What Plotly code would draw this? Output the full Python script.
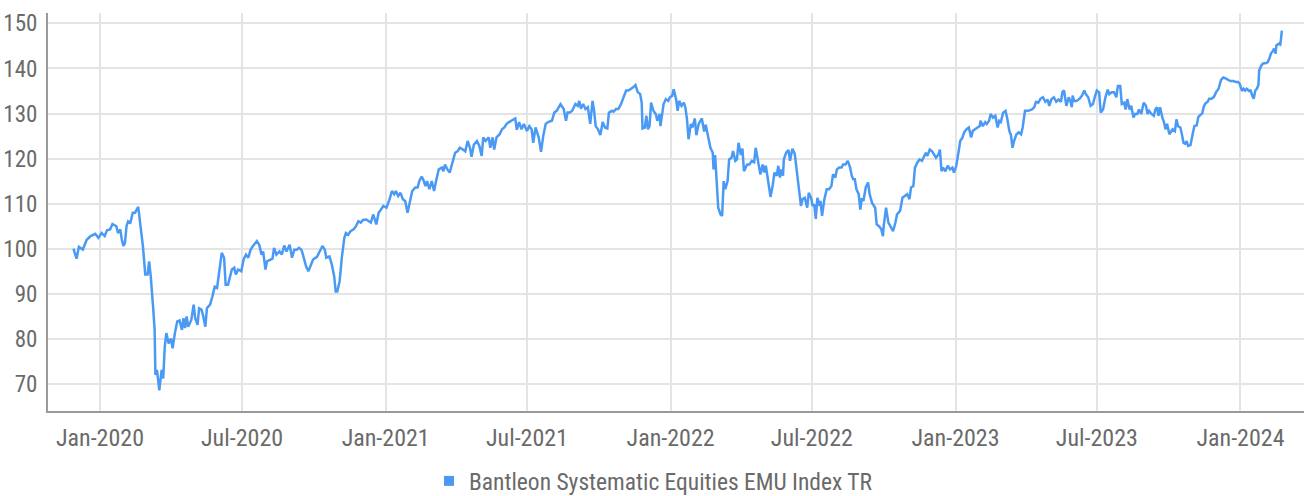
import plotly.graph_objects as go

series_name = "Bantleon Systematic Equities EMU Index TR"

dates = [
    "2019-11-28", "2019-12-02", "2019-12-05", "2019-12-10", "2019-12-15", "2019-12-20", "2019-12-26", "2019-12-30",
    "2020-01-03", "2020-01-07", "2020-01-10", "2020-01-14", "2020-01-17", "2020-01-22", "2020-01-24", "2020-01-27",
    "2020-01-29", "2020-01-31", "2020-02-02", "2020-02-04", "2020-02-06", "2020-02-09", "2020-02-12", "2020-02-15",
    "2020-02-19", "2020-02-21", "2020-02-23", "2020-02-25", "2020-02-28", "2020-03-02", "2020-03-04", "2020-03-06",
    "2020-03-09", "2020-03-11", "2020-03-12", "2020-03-14", "2020-03-17", "2020-03-20", "2020-03-22", "2020-03-24",
    "2020-03-26", "2020-03-29", "2020-04-01", "2020-04-03", "2020-04-06", "2020-04-09", "2020-04-12", "2020-04-15",
    "2020-04-17", "2020-04-19", "2020-04-21", "2020-04-23", "2020-04-27", "2020-04-30", "2020-05-02", "2020-05-05",
    "2020-05-07", "2020-05-10", "2020-05-12", "2020-05-15", "2020-05-17", "2020-05-21", "2020-05-24", "2020-05-27",
    "2020-05-30", "2020-06-02", "2020-06-05", "2020-06-08", "2020-06-10", "2020-06-13", "2020-06-18", "2020-06-21",
    "2020-06-23", "2020-06-26", "2020-06-30", "2020-07-03", "2020-07-06", "2020-07-09", "2020-07-12", "2020-07-15",
    "2020-07-20", "2020-07-23", "2020-07-26", "2020-07-28", "2020-07-31", "2020-08-02", "2020-08-06", "2020-08-09",
    "2020-08-11", "2020-08-14", "2020-08-18", "2020-08-21", "2020-08-24", "2020-08-27", "2020-08-31", "2020-09-03",
    "2020-09-06", "2020-09-09", "2020-09-12", "2020-09-15", "2020-09-17", "2020-09-21", "2020-09-24", "2020-09-27",
    "2020-09-30", "2020-10-05", "2020-10-09", "2020-10-12", "2020-10-15", "2020-10-17", "2020-10-21", "2020-10-24",
    "2020-10-27", "2020-10-29", "2020-10-31", "2020-11-03", "2020-11-06", "2020-11-09", "2020-11-11", "2020-11-14",
    "2020-11-17", "2020-11-21", "2020-11-24", "2020-11-27", "2020-11-30", "2020-12-03", "2020-12-07", "2020-12-10",
    "2020-12-13", "2020-12-16", "2020-12-20", "2020-12-23", "2020-12-25", "2020-12-29", "2021-01-02", "2021-01-06",
    "2021-01-09", "2021-01-12", "2021-01-14", "2021-01-17", "2021-01-20", "2021-01-23", "2021-01-26", "2021-01-29",
    "2021-02-01", "2021-02-04", "2021-02-08", "2021-02-11", "2021-02-13", "2021-02-16", "2021-02-18", "2021-02-21",
    "2021-02-23", "2021-02-26", "2021-03-01", "2021-03-04", "2021-03-07", "2021-03-10", "2021-03-14", "2021-03-16",
    "2021-03-18", "2021-03-21", "2021-03-24", "2021-03-27", "2021-03-29", "2021-03-31", "2021-04-03", "2021-04-06",
    "2021-04-10", "2021-04-13", "2021-04-16", "2021-04-19", "2021-04-21", "2021-04-24", "2021-04-28", "2021-05-01",
    "2021-05-04", "2021-05-06", "2021-05-09", "2021-05-13", "2021-05-15", "2021-05-18", "2021-05-20", "2021-05-23",
    "2021-05-27", "2021-05-30", "2021-06-02", "2021-06-05", "2021-06-08", "2021-06-11", "2021-06-16", "2021-06-18",
    "2021-06-21", "2021-06-24", "2021-06-27", "2021-07-01", "2021-07-04", "2021-07-07", "2021-07-09", "2021-07-12",
    "2021-07-16", "2021-07-19", "2021-07-22", "2021-07-25", "2021-07-28", "2021-08-02", "2021-08-05", "2021-08-08",
    "2021-08-10", "2021-08-13", "2021-08-17", "2021-08-20", "2021-08-22", "2021-08-25", "2021-08-28", "2021-09-01",
    "2021-09-04", "2021-09-06", "2021-09-08", "2021-09-11", "2021-09-14", "2021-09-17", "2021-09-20", "2021-09-23",
    "2021-09-25", "2021-09-27", "2021-09-30", "2021-10-03", "2021-10-06", "2021-10-09", "2021-10-12", "2021-10-14",
    "2021-10-18", "2021-10-20", "2021-10-23", "2021-10-26", "2021-10-29", "2021-11-01", "2021-11-05", "2021-11-08",
    "2021-11-11", "2021-11-14", "2021-11-17", "2021-11-20", "2021-11-23", "2021-11-25", "2021-11-26", "2021-11-29",
    "2021-12-01", "2021-12-03", "2021-12-05", "2021-12-07", "2021-12-10", "2021-12-13", "2021-12-15", "2021-12-18",
    "2021-12-19", "2021-12-23", "2021-12-26", "2021-12-29", "2021-12-31", "2022-01-03", "2022-01-05", "2022-01-08",
    "2022-01-10", "2022-01-12", "2022-01-15", "2022-01-18", "2022-01-20", "2022-01-22", "2022-01-24", "2022-01-27",
    "2022-01-29", "2022-02-01", "2022-02-03", "2022-02-06", "2022-02-10", "2022-02-13", "2022-02-15", "2022-02-18",
    "2022-02-21", "2022-02-24", "2022-02-25", "2022-02-27", "2022-03-01", "2022-03-03", "2022-03-06", "2022-03-08",
    "2022-03-10", "2022-03-12", "2022-03-15", "2022-03-17", "2022-03-20", "2022-03-22", "2022-03-25", "2022-03-27",
    "2022-03-29", "2022-04-01", "2022-04-03", "2022-04-05", "2022-04-09", "2022-04-12", "2022-04-15", "2022-04-18",
    "2022-04-20", "2022-04-23", "2022-04-26", "2022-04-29", "2022-05-01", "2022-05-03", "2022-05-06", "2022-05-09",
    "2022-05-12", "2022-05-14", "2022-05-17", "2022-05-19", "2022-05-21", "2022-05-23", "2022-05-25", "2022-05-26",
    "2022-05-29", "2022-06-01", "2022-06-03", "2022-06-06", "2022-06-09", "2022-06-12", "2022-06-14", "2022-06-17",
    "2022-06-19", "2022-06-22", "2022-06-25", "2022-06-27", "2022-06-30", "2022-07-02", "2022-07-04", "2022-07-06",
    "2022-07-08", "2022-07-11", "2022-07-12", "2022-07-14", "2022-07-17", "2022-07-20", "2022-07-23", "2022-07-26",
    "2022-07-28", "2022-07-31", "2022-08-02", "2022-08-05", "2022-08-08", "2022-08-10", "2022-08-13", "2022-08-16",
    "2022-08-19", "2022-08-21", "2022-08-23", "2022-08-25", "2022-08-27", "2022-08-30", "2022-09-01", "2022-09-03",
    "2022-09-05", "2022-09-08", "2022-09-11", "2022-09-13", "2022-09-16", "2022-09-20", "2022-09-22", "2022-09-25",
    "2022-09-28", "2022-09-30", "2022-10-01", "2022-10-04", "2022-10-07", "2022-10-10", "2022-10-13", "2022-10-16",
    "2022-10-18", "2022-10-22", "2022-10-25", "2022-10-28", "2022-10-31", "2022-11-03", "2022-11-05", "2022-11-08",
    "2022-11-10", "2022-11-13", "2022-11-16", "2022-11-19", "2022-11-21", "2022-11-24", "2022-11-26", "2022-11-29",
    "2022-12-02", "2022-12-04", "2022-12-07", "2022-12-10", "2022-12-12", "2022-12-14", "2022-12-16", "2022-12-19",
    "2022-12-22", "2022-12-25", "2022-12-28", "2022-12-30", "2023-01-02", "2023-01-05", "2023-01-07", "2023-01-10",
    "2023-01-12", "2023-01-15", "2023-01-18", "2023-01-21", "2023-01-23", "2023-01-26", "2023-01-29", "2023-02-01",
    "2023-02-02", "2023-02-05", "2023-02-08", "2023-02-10", "2023-02-13", "2023-02-15", "2023-02-18", "2023-02-21",
    "2023-02-24", "2023-02-26", "2023-02-28", "2023-03-03", "2023-03-06", "2023-03-08", "2023-03-11", "2023-03-13",
    "2023-03-15", "2023-03-17", "2023-03-20", "2023-03-23", "2023-03-26", "2023-03-28", "2023-03-31", "2023-04-04",
    "2023-04-09", "2023-04-12", "2023-04-14", "2023-04-17", "2023-04-20", "2023-04-23", "2023-04-26", "2023-04-29",
    "2023-05-01", "2023-05-04", "2023-05-07", "2023-05-10", "2023-05-13", "2023-05-16", "2023-05-18", "2023-05-20",
    "2023-05-23", "2023-05-26", "2023-05-28", "2023-05-30", "2023-05-31", "2023-06-02", "2023-06-05", "2023-06-09",
    "2023-06-12", "2023-06-15", "2023-06-17", "2023-06-20", "2023-06-23", "2023-06-26", "2023-06-29", "2023-07-01",
    "2023-07-04", "2023-07-06", "2023-07-09", "2023-07-12", "2023-07-15", "2023-07-17", "2023-07-20", "2023-07-23",
    "2023-07-26", "2023-07-28", "2023-07-31", "2023-08-02", "2023-08-05", "2023-08-07", "2023-08-09", "2023-08-12",
    "2023-08-14", "2023-08-17", "2023-08-19", "2023-08-22", "2023-08-24", "2023-08-27", "2023-08-30", "2023-09-02",
    "2023-09-04", "2023-09-06", "2023-09-09", "2023-09-12", "2023-09-14", "2023-09-16", "2023-09-18", "2023-09-20",
    "2023-09-23", "2023-09-25", "2023-09-27", "2023-09-29", "2023-10-02", "2023-10-06", "2023-10-09", "2023-10-11",
    "2023-10-13", "2023-10-16", "2023-10-18", "2023-10-20", "2023-10-22", "2023-10-24", "2023-10-26", "2023-10-29",
    "2023-11-01", "2023-11-03", "2023-11-06", "2023-11-08", "2023-11-10", "2023-11-13", "2023-11-15", "2023-11-17",
    "2023-11-20", "2023-11-22", "2023-11-25", "2023-11-28", "2023-12-01", "2023-12-04", "2023-12-07", "2023-12-10",
    "2023-12-13", "2023-12-16", "2023-12-19", "2023-12-23", "2023-12-26", "2023-12-29", "2023-12-31", "2024-01-03",
    "2024-01-05", "2024-01-07", "2024-01-09", "2024-01-12", "2024-01-14", "2024-01-16", "2024-01-18", "2024-01-20",
    "2024-01-22", "2024-01-24", "2024-01-25", "2024-01-28", "2024-01-30", "2024-02-03", "2024-02-05", "2024-02-07",
    "2024-02-09", "2024-02-12", "2024-02-13", "2024-02-15", "2024-02-16", "2024-02-19", "2024-02-21", "2024-02-22",
    "2024-02-23",
]

values = [
    100.0, 97.8, 100.4, 99.8, 102.0, 102.8, 103.3, 102.4,
    103.5, 102.8, 104.1, 104.3, 105.5, 105.0, 103.5, 104.3,
    102.0, 100.6, 101.3, 105.0, 106.1, 105.8, 108.0, 108.0,
    109.3, 106.5, 103.5, 100.6, 94.3, 94.3, 97.2, 93.9,
    87.2, 82.0, 72.0, 73.1, 68.6, 73.1, 71.2, 78.3,
    81.3, 79.0, 80.1, 77.9, 81.3, 83.9, 84.1, 82.0,
    84.6, 82.4, 85.0, 82.7, 84.2, 87.6, 84.6, 83.1,
    86.8, 86.5, 85.3, 82.7, 86.8, 87.6, 89.4, 91.6,
    91.3, 95.4, 99.1, 98.0, 92.0, 92.0, 95.4, 95.8,
    94.3, 95.4, 95.0, 97.6, 98.7, 98.0, 99.8, 100.6,
    101.7, 100.9, 98.7, 99.4, 95.4, 97.2, 97.6, 97.8,
    100.2, 98.7, 99.4, 98.7, 100.7, 99.4, 100.9, 98.0,
    99.8, 99.8, 100.2, 99.8, 98.7, 96.1, 95.0, 96.5,
    97.6, 98.2, 99.4, 100.6, 99.8, 98.0, 98.3, 96.5,
    93.9, 90.5, 90.5, 92.8, 98.3, 102.4, 103.5, 103.1,
    103.9, 104.3, 105.0, 106.1, 105.8, 106.4, 106.5, 106.1,
    105.8, 107.6, 105.4, 108.0, 108.4, 109.5, 109.1, 111.0,
    112.8, 112.1, 112.8, 111.7, 112.4, 111.0, 110.6, 108.0,
    110.2, 112.8, 113.6, 113.6, 115.0, 116.0, 115.4, 113.9,
    115.0, 113.2, 115.0, 112.8, 115.4, 117.6, 118.0, 117.2,
    118.7, 117.6, 116.9, 118.7, 119.8, 121.3, 121.6, 122.4,
    122.0, 121.6, 123.9, 122.4, 120.4, 123.1, 123.9, 122.8,
    120.6, 124.7, 123.9, 124.7, 122.4, 124.7, 122.0, 124.7,
    125.4, 126.5, 126.9, 127.7, 128.1, 128.4, 128.9, 126.4,
    128.1, 126.5, 127.7, 126.1, 127.2, 126.5, 123.5, 126.9,
    124.7, 121.5, 125.2, 127.7, 128.1, 128.4, 130.2, 130.6,
    131.1, 132.1, 131.0, 128.4, 130.2, 130.2, 130.6, 132.1,
    131.7, 132.8, 131.1, 132.1, 131.0, 131.4, 127.7, 132.8,
    130.6, 127.2, 126.5, 125.2, 128.1, 126.9, 126.7, 130.2,
    130.6, 130.4, 131.0, 131.0, 131.9, 133.2, 135.1, 135.1,
    135.4, 135.8, 136.3, 134.7, 134.3, 132.4, 126.7, 126.9,
    129.5, 126.5, 127.2, 132.4, 130.6, 129.9, 128.4, 129.9,
    127.2, 132.1, 133.2, 132.8, 133.6, 133.9, 135.4, 133.2,
    130.6, 132.8, 131.7, 132.4, 131.3, 128.7, 124.3, 127.7,
    126.9, 128.9, 125.2, 127.7, 128.9, 126.0, 127.5, 125.0,
    122.4, 121.3, 117.6, 120.8, 115.4, 109.1, 107.6, 107.3,
    115.0, 113.2, 115.0, 119.8, 120.2, 121.7, 119.5, 119.8,
    123.5, 120.8, 122.2, 117.2, 118.7, 118.7, 119.5, 119.2,
    122.4, 119.5, 116.5, 118.7, 116.9, 118.4, 115.0, 111.5,
    114.3, 116.9, 116.2, 118.4, 115.8, 117.6, 116.2, 119.8,
    121.3, 121.9, 119.5, 122.2, 121.1, 116.9, 112.8, 109.5,
    111.0, 111.3, 109.1, 112.4, 111.3, 109.5, 109.8, 106.6,
    111.3, 109.5, 110.6, 107.3, 111.0, 113.2, 113.2, 113.9,
    116.5, 115.8, 117.6, 118.0, 118.0, 118.7, 118.7, 119.5,
    118.0, 116.2, 115.4, 115.4, 113.2, 112.1, 108.7, 111.2,
    110.6, 113.6, 114.7, 112.1, 110.2, 109.1, 105.4, 105.0,
    104.3, 102.8, 105.0, 109.1, 105.8, 105.0, 103.9, 105.8,
    107.6, 108.4, 111.3, 111.7, 112.1, 111.0, 113.6, 113.9,
    118.0, 119.1, 119.8, 119.5, 120.2, 121.3, 120.6, 122.0,
    121.6, 120.9, 120.2, 120.9, 122.0, 117.2, 118.0, 117.2,
    118.4, 117.6, 118.0, 116.9, 118.4, 121.6, 123.9, 124.7,
    125.8, 126.5, 126.9, 124.7, 126.1, 126.5, 126.9, 127.2,
    128.4, 127.2, 128.1, 127.7, 128.4, 129.9, 129.1, 129.5,
    126.9, 128.4, 128.1, 130.2, 130.6, 129.1, 126.1, 125.2,
    122.4, 123.9, 125.4, 125.8, 125.4, 126.9, 130.6, 130.6,
    130.9, 131.4, 132.6, 132.4, 133.3, 133.6, 132.6, 133.1,
    131.7, 133.2, 133.6, 132.6, 133.1, 132.6, 134.8, 135.1,
    131.7, 133.6, 132.8, 131.4, 134.0, 132.8, 132.8, 133.3,
    134.0, 135.1, 134.3, 133.6, 131.7, 132.1, 134.0, 135.1,
    134.7, 130.2, 130.9, 133.6, 135.3, 134.3, 134.7, 134.7,
    133.6, 136.1, 136.1, 132.1, 132.4, 130.9, 133.2, 130.9,
    131.7, 129.1, 129.9, 129.9, 130.9, 129.9, 132.4, 131.7,
    129.9, 130.6, 129.9, 129.5, 130.9, 131.4, 129.5, 131.4,
    129.1, 128.1, 126.5, 127.7, 125.4, 126.5, 126.1, 128.7,
    127.2, 126.9, 125.4, 123.5, 123.3, 123.9, 122.8, 123.0,
    125.6, 127.2, 127.4, 129.2, 129.6, 130.0, 131.5, 132.2,
    132.6, 133.3, 133.3, 133.7, 134.8, 135.5, 137.4, 138.0,
    137.8, 137.4, 137.2, 137.2, 137.0, 137.0, 136.6, 135.0,
    135.5, 135.1, 135.5, 135.0, 135.1, 134.0, 133.3, 135.1,
    135.5, 136.3, 139.6, 140.7, 141.1, 141.2, 141.4, 142.2,
    143.3, 144.0, 144.4, 143.3, 145.1, 145.5, 145.3, 146.6,
    148.4,
]

y_tick_values = [70, 80, 90, 100, 110, 120, 130, 140, 150]
x_tick_dates = ["2020-01-01", "2020-07-01", "2021-01-01", "2021-07-01", "2022-01-01",
                "2022-07-01", "2023-01-01", "2023-07-01", "2024-01-01"]
x_tick_labels = ["Jan-2020", "Jul-2020", "Jan-2021", "Jul-2021", "Jan-2022",
                 "Jul-2022", "Jan-2023", "Jul-2023", "Jan-2024"]

LINE_COLOR = "#4a9af5"
TEXT_COLOR = "#6a6a6a"
GRID_COLOR = "#e4e4e4"
AXIS_COLOR = "#9a9a9a"
FONT = "Liberation Sans Narrow, Roboto Condensed, DejaVu Sans Condensed, Roboto, sans-serif"

fig = go.Figure()
fig.add_trace(go.Scatter(
    x=dates, y=values, mode="lines",
    line=dict(color=LINE_COLOR, width=2.5),
    showlegend=False, name=series_name,
))
fig.add_trace(go.Scatter(
    x=[None], y=[None], mode="markers",
    marker=dict(symbol="square", size=10, color=LINE_COLOR),
    name=series_name, showlegend=True,
))

fig.update_layout(
    width=1304, height=496,
    margin=dict(l=48, r=0, t=13, b=85, autoexpand=False),
    paper_bgcolor="white", plot_bgcolor="white",
    font=dict(family=FONT, color=TEXT_COLOR, size=22),
    showlegend=True,
    legend=dict(orientation="h", xref="container", yref="container",
                x=0.329, xanchor="left", y=0.03, yanchor="middle",
                font=dict(size=23.5, color=TEXT_COLOR), itemwidth=30,
                bgcolor="rgba(0,0,0,0)"),
    xaxis=dict(
        type="date",
        range=["2019-10-26 10:00", "2024-03-22 10:00"],
        tickvals=x_tick_dates, ticktext=x_tick_labels,
        showgrid=True, gridcolor=GRID_COLOR, gridwidth=2,
        showline=True, linecolor=AXIS_COLOR, linewidth=2,
        ticks="", ticklabelstandoff=4,
        tickfont=dict(size=24, color=TEXT_COLOR),
        zeroline=False, automargin=False,
    ),
    yaxis=dict(
        range=[64.0, 152.3],
        tickvals=y_tick_values,
        showgrid=True, gridcolor=GRID_COLOR, gridwidth=2,
        showline=True, linecolor=AXIS_COLOR, linewidth=2,
        ticks="", ticklabelstandoff=4,
        tickfont=dict(size=23, color=TEXT_COLOR),
        zeroline=False, automargin=False,
    ),
)

fig.write_html("out.html", config={"displayModeBar": False},
               post_script="document.body.style.margin='0';")
